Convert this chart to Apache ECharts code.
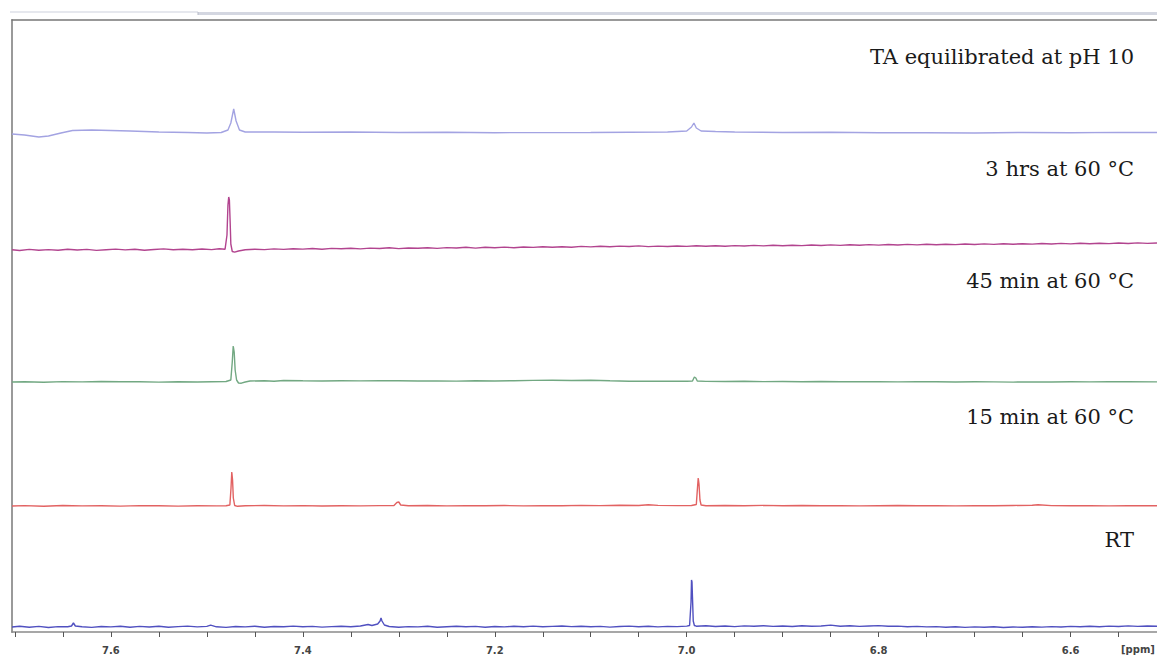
<!DOCTYPE html>
<html>
<head>
<meta charset="utf-8">
<script src="https://cdn.jsdelivr.net/npm/echarts@6/dist/echarts.min.js"></script>
<style>html,body{margin:0;padding:0;background:#fff;}#c{width:1157px;height:655px;}</style>
</head>
<body>
<div id="c"></div>
<script>
// ---- Data (ppm, relative intensity) ----
const spectrumLabels = ["TA equilibrated at pH 10", "3 hrs at 60 °C", "45 min at 60 °C", "15 min at 60 °C", "RT"];
const spectrumOffsets = [499, 382, 250, 126, 5];
const majorTicks = [6.6, 6.8, 7.0, 7.2, 7.4, 7.6];
const minorTicks = [6.55, 6.6, 6.65, 6.7, 6.75, 6.8, 6.85, 6.9, 6.95, 7.0, 7.05, 7.1, 7.15, 7.2, 7.25, 7.3, 7.35, 7.4, 7.45, 7.5, 7.55, 7.6, 7.65, 7.7];

const specTA = [[7.703,-1],[7.69,-2],[7.675,-4],[7.665,-3],[7.652,0],[7.64,2.5],[7.62,3],[7.60,2.5],[7.58,2],[7.55,1],[7.52,0.5],[7.50,0],[7.485,0.5],[7.478,3],[7.475,10],[7.472,24],[7.4695,12],[7.466,3],[7.46,1],[7.43,1],[7.40,0.8],[7.35,1],[7.30,0.5],[7.25,0.7],[7.20,0.3],[7.10,0.5],[7.02,1],[7.00,2],[6.995,6],[6.9925,10],[6.990,5],[6.985,2],[6.97,1.5],[6.95,1],[6.90,0.5],[6.85,0.7],[6.80,0.3],[6.75,0.2],[6.70,0],[6.65,0.5],[6.60,0.3],[6.55,0.6],[6.51,0.5]];

const spec3h = [[7.703,0.2],[7.695,-0.5],[7.685,0.6],[7.675,-0.3],[7.665,0.4],[7.655,-0.2],[7.645,0.8],[7.635,0],[7.625,0.6],[7.615,-0.4],[7.605,0.3],[7.595,0.9],[7.585,0.1],[7.575,0.7],[7.565,-0.2],[7.555,0.5],[7.545,1.1],[7.535,0.3],[7.525,0.8],[7.515,0.2],[7.505,1.0],[7.495,0.4],[7.487,1.2],[7.481,0.8],[7.479,15],[7.478,45],[7.4772,53],[7.4765,50],[7.4757,28],[7.475,6],[7.4735,-1.5],[7.471,-2.2],[7.467,-1],[7.46,0.2],[7.45,0.8],[7.44,0.4],[7.43,1.1],[7.42,0.6],[7.41,1.3],[7.40,0.9],[7.39,1.5],[7.38,0.8],[7.37,1.6],[7.36,1.2],[7.35,1.8],[7.34,1.1],[7.33,1.9],[7.32,1.5],[7.31,2.2],[7.30,1.4],[7.29,2.0],[7.28,1.7],[7.27,2.3],[7.26,1.6],[7.25,2.4],[7.24,2.0],[7.23,2.7],[7.22,1.9],[7.21,2.7],[7.20,2.3],[7.19,2.9],[7.18,2.2],[7.17,3.0],[7.16,2.6],[7.15,3.3],[7.14,2.7],[7.13,3.2],[7.12,2.8],[7.11,3.6],[7.10,3.1],[7.09,3.8],[7.08,3.2],[7.07,3.9],[7.06,3.5],[7.05,4.1],[7.04,3.4],[7.03,3.9],[7.02,3.5],[7.01,4.0],[7.00,3.6],[6.99,4.2],[6.98,3.7],[6.97,4.3],[6.96,3.8],[6.95,4.4],[6.94,4.0],[6.93,4.6],[6.92,4.1],[6.91,4.7],[6.90,4.2],[6.89,4.8],[6.88,4.4],[6.87,5.0],[6.86,4.5],[6.85,5.1],[6.84,4.6],[6.83,5.2],[6.82,4.8],[6.81,5.4],[6.80,4.9],[6.79,5.5],[6.78,5.0],[6.77,5.6],[6.76,5.1],[6.75,5.7],[6.74,5.3],[6.73,5.8],[6.72,5.4],[6.71,6.0],[6.70,5.5],[6.69,6.1],[6.68,5.6],[6.67,6.2],[6.66,5.8],[6.65,6.3],[6.64,5.9],[6.63,6.5],[6.62,6.0],[6.61,6.6],[6.60,6.1],[6.59,6.7],[6.58,6.3],[6.57,6.8],[6.56,6.4],[6.55,7.0],[6.54,6.5],[6.53,7.1],[6.52,6.6],[6.51,7.0]];

const spec45m = [[7.703,0],[7.69,0.3],[7.67,-0.2],[7.65,0.4],[7.63,0.1],[7.61,0.5],[7.59,0.2],[7.57,0.3],[7.55,-0.1],[7.53,0.2],[7.51,0],[7.495,0.3],[7.48,0.5],[7.475,2],[7.4735,20],[7.4725,36],[7.4715,30],[7.4705,12],[7.469,2],[7.467,-1],[7.464,-1.2],[7.46,0],[7.455,1],[7.44,1.2],[7.43,0.8],[7.42,1.5],[7.40,1.2],[7.38,1.0],[7.36,1.3],[7.34,1.1],[7.32,1.4],[7.30,1.2],[7.28,1.0],[7.26,1.1],[7.24,0.9],[7.22,1.2],[7.20,1.0],[7.18,1.3],[7.16,1.6],[7.14,1.8],[7.12,1.5],[7.10,1.7],[7.08,1.2],[7.06,0.8],[7.04,0.9],[7.02,0.7],[7.00,0.8],[6.994,1],[6.992,5],[6.9905,4],[6.989,1],[6.98,0.6],[6.96,0.5],[6.94,0.7],[6.92,0.4],[6.90,0.5],[6.88,0.3],[6.86,0.5],[6.84,0.2],[6.82,0.4],[6.80,0.3],[6.78,0.1],[6.76,0.3],[6.74,0.2],[6.72,0],[6.70,0.2],[6.68,0.1],[6.66,-0.1],[6.64,0.1],[6.62,0],[6.60,0.2],[6.58,0.1],[6.56,0.3],[6.54,0.2],[6.51,0.1]];

const spec15m = [[7.703,0],[7.69,0.4],[7.67,-0.2],[7.65,0.5],[7.63,0.1],[7.61,0.3],[7.59,-0.1],[7.57,0.4],[7.55,0.2],[7.53,-0.1],[7.51,0.3],[7.49,0.1],[7.48,0.3],[7.476,1],[7.4748,18],[7.474,34],[7.4732,26],[7.4724,8],[7.471,0.5],[7.468,-0.3],[7.46,0.2],[7.44,0.5],[7.42,0.1],[7.40,0.4],[7.38,0],[7.36,0.3],[7.34,0.1],[7.32,0.4],[7.305,0.5],[7.302,3.5],[7.300,4],[7.298,1],[7.29,0.2],[7.27,0.5],[7.25,0.1],[7.23,0.4],[7.21,0.2],[7.19,0.5],[7.17,0.1],[7.15,0.4],[7.13,0.3],[7.11,0.6],[7.09,0.4],[7.07,0.7],[7.05,0.5],[7.04,1.2],[7.03,0.6],[7.01,0.4],[6.995,0.5],[6.990,1.5],[6.9888,18],[6.988,28],[6.9872,22],[6.9862,6],[6.985,1],[6.98,0.3],[6.96,0.5],[6.94,0.2],[6.92,0.6],[6.90,0.3],[6.88,0.5],[6.86,0.2],[6.84,0.4],[6.82,0.1],[6.80,0.3],[6.78,0.5],[6.76,0.2],[6.74,0.4],[6.72,0.1],[6.70,0.3],[6.68,0.2],[6.66,0.5],[6.64,0.8],[6.634,1.3],[6.62,0.4],[6.60,0.2],[6.58,0.4],[6.56,0.1],[6.54,0.3],[6.51,0.2]];

const specRT = [[7.703,0],[7.695,0.8],[7.685,-0.3],[7.675,0.6],[7.665,-0.5],[7.655,0.4],[7.645,0.2],[7.641,1],[7.639,4],[7.637,1],[7.63,0.3],[7.62,-0.4],[7.61,0.5],[7.60,0.1],[7.59,0.8],[7.58,-0.2],[7.57,0.6],[7.56,0],[7.55,0.7],[7.54,-0.3],[7.53,0.4],[7.52,0.9],[7.51,0.1],[7.50,0.6],[7.496,1.8],[7.49,0.2],[7.48,-0.4],[7.47,0.5],[7.46,0.1],[7.45,0.8],[7.44,-0.2],[7.43,0.5],[7.42,0.2],[7.41,0.9],[7.40,0.3],[7.39,0.6],[7.38,-0.1],[7.37,0.4],[7.36,0.8],[7.35,0.2],[7.34,1.0],[7.332,2.5],[7.328,1.5],[7.322,3],[7.3195,6],[7.3185,9],[7.3175,6],[7.315,2],[7.31,0.5],[7.30,-0.2],[7.29,0.4],[7.28,0.1],[7.27,0.7],[7.26,-0.3],[7.25,0.3],[7.24,0.8],[7.23,0.2],[7.22,0.6],[7.21,-0.2],[7.20,0.5],[7.19,0.1],[7.18,0.7],[7.17,0.3],[7.16,0.9],[7.15,0.2],[7.14,0.6],[7.13,1.0],[7.12,0.4],[7.11,0.8],[7.10,0.2],[7.09,0.6],[7.08,-0.1],[7.07,0.5],[7.06,0.9],[7.05,0.3],[7.04,0.7],[7.03,0.1],[7.02,0.6],[7.01,0.4],[7.00,0.9],[6.997,1.5],[6.9955,25],[6.995,47],[6.9945,45],[6.994,30],[6.9932,6],[6.992,1.5],[6.99,0.8],[6.98,1.2],[6.97,0.5],[6.96,1.0],[6.95,0.4],[6.94,1.1],[6.93,0.7],[6.92,1.3],[6.91,0.6],[6.90,1.0],[6.89,0.5],[6.88,1.2],[6.87,0.7],[6.86,1.0],[6.85,1.9],[6.84,0.8],[6.83,1.2],[6.82,0.6],[6.81,1.0],[6.80,1.4],[6.79,0.7],[6.78,0.9],[6.77,0.3],[6.76,0.6],[6.75,0.1],[6.74,0.4],[6.73,-0.2],[6.72,0.3],[6.71,-0.4],[6.70,0.1],[6.69,-0.3],[6.68,0.2],[6.67,-0.5],[6.66,0],[6.65,-0.3],[6.64,0.3],[6.63,-0.1],[6.62,0.4],[6.61,0],[6.60,0.6],[6.59,0.2],[6.58,0.8],[6.57,0.3],[6.56,0.9],[6.55,0.5],[6.54,1.1],[6.53,0.6],[6.52,1.0],[6.51,0.7]];

const spectra = [specTA, spec3h, spec45m, spec15m, specRT];
const spectrumColors = ["#a3a3e2", "#b2448f", "#72a882", "#e26262", "#5050c0"];

// ---- Chart ----
const chart = echarts.init(document.getElementById('c'), null, {renderer: 'svg'});
const series = spectra.map((s, i) => ({
  type: 'line',
  name: spectrumLabels[i],
  data: s.map(p => [p[0], p[1] + spectrumOffsets[i]]),
  showSymbol: false,
  symbol: 'none',
  lineStyle: {color: spectrumColors[i], width: 1.4},
  animation: false,
  z: 3
}));

const labelY = [58, 170, 282, 418, 541];
const graphics = spectrumLabels.map((t, i) => ({
  type: 'text',
  right: 23,
  top: labelY[i] - 12,
  style: {text: t, font: '21px "DejaVu Serif", serif', fill: '#1a1a1a'}
}));
graphics.push(
  {type: 'rect', shape: {x: 10, y: 11, width: 188, height: 2}, style: {fill: '#e6e8ee'}},
  {type: 'rect', shape: {x: 198, y: 12, width: 960, height: 3}, style: {fill: '#d4d7e1'}},
  {type: 'line', shape: {x1: 198, y1: 12, x2: 198, y2: 15}, style: {stroke: '#b8bcc8', lineWidth: 1}},
  {type: 'text', left: 1121, top: 644, style: {text: '[ppm]', font: 'bold 10px "DejaVu Sans", sans-serif', fill: '#444'}}
);

chart.setOption({
  backgroundColor: '#ffffff',
  animation: false,
  grid: {left: 12, right: 0, top: 20, bottom: 23, containLabel: false},
  xAxis: [{
    type: 'value', inverse: true, min: 6.51, max: 7.703,
    axisLine: {show: true, onZero: false, lineStyle: {color: '#8a8a8a', width: 1.5}},
    axisTick: {show: true, length: 5, customValues: minorTicks, lineStyle: {color: '#555', width: 1}},
    axisLabel: {show: true, customValues: majorTicks, margin: 13, color: '#444', fontWeight: 'bold', fontSize: 10,
      fontFamily: '"DejaVu Sans", sans-serif', formatter: v => v.toFixed(1)},
    splitLine: {show: false}
  }, {
    type: 'value', position: 'top', inverse: true, min: 6.51, max: 7.703,
    axisLine: {show: true, onZero: false, lineStyle: {color: '#777', width: 1.5}},
    axisTick: {show: false}, axisLabel: {show: false}, splitLine: {show: false}
  }],
  yAxis: {
    type: 'value', min: 0, max: 612,
    axisLine: {show: true, onZero: false, lineStyle: {color: '#9a9a9a', width: 2}},
    axisTick: {show: false}, axisLabel: {show: false}, splitLine: {show: false}
  },
  graphic: graphics,
  series: series
});
</script>
</body>
</html>
